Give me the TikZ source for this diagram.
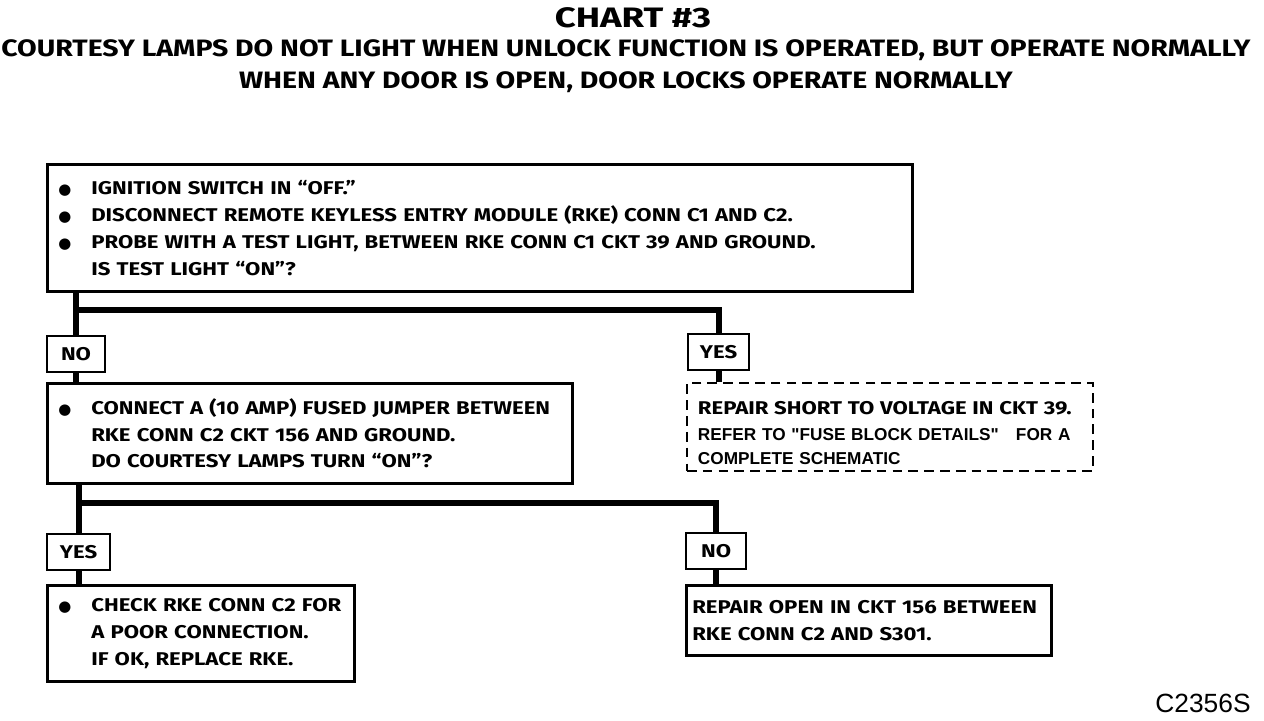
\documentclass[tikz,border=0pt]{standalone}
\usepackage{fontspec}
\setmainfont{Fira Sans}[FakeStretch=1.2]
\newfontfamily\titlefont{Fira Sans}[FakeStretch=1.3]
\newfontfamily\refsans{Liberation Sans}
\newfontfamily\dotfont{DejaVu Sans}
\newcommand{\bodyfont}{\fontsize{10.5}{15.3}\selectfont\bfseries}
\newcommand{\bul}{\makebox[0.66cm][l]{\dotfont\fontsize{8.5}{8}\selectfont ●}}
\newcommand{\ind}{\hspace*{0.66cm}}

\begin{document}
\begin{tikzpicture}[
    chartbox/.style={draw=black, line width=1.5pt, anchor=north west, align=left,
      inner xsep=0.22cm, inner ysep=0pt, font=\bodyfont},
    dashbox/.style={chartbox, line width=1.1pt, dash pattern=on 5.5pt off 3.5pt,
      font=\refsans\fontsize{9.8}{13.6}\selectfont\bfseries},
    answer/.style={draw=black, line width=1.2pt, anchor=north west, inner sep=0pt,
      minimum height=0.72cm, font=\bodyfont},
    wire/.style={draw=black, line width=3.4pt},
    heading/.style={align=center, font=\fontsize{13.5}{18.1}\selectfont\bfseries},
  ]
  \useasboundingbox (0,0) rectangle (25.28,-14.4);

  \node[heading] (title) at (12.66,-0.36) {\titlefont\fontsize{16}{18}\selectfont\bfseries CHART \#3};
  \node[heading] (sub) at (12.52,-1.32)
    {COURTESY LAMPS DO NOT LIGHT WHEN UNLOCK FUNCTION IS OPERATED, BUT OPERATE NORMALLY\\
     WHEN ANY DOOR IS OPEN, DOOR LOCKS OPERATE NORMALLY};

  \node[chartbox, text width=16.86cm, minimum height=2.54cm] (box1) at (0.92,-3.26)
    {\bul IGNITION SWITCH IN ``OFF.''\\
     \bul DISCONNECT REMOTE KEYLESS ENTRY MODULE (RKE) CONN C1 AND C2.\\
     \bul PROBE WITH A TEST LIGHT, BETWEEN RKE CONN C1 CKT 39 AND GROUND.\\
     \ind IS TEST LIGHT ``ON''?};

  \node[answer, minimum width=1.16cm] (no1)  at (0.92,-6.70)  {NO};
  \node[answer, minimum width=1.22cm] (yes1) at (13.74,-6.66) {YES};

  \node[chartbox, text width=10.06cm, minimum height=2.0cm] (box2) at (0.92,-7.64)
    {\bul CONNECT A (10 AMP) FUSED JUMPER BETWEEN\\
     \ind RKE CONN C2 CKT 156 AND GROUND.\\
     \ind DO COURTESY LAMPS TURN ``ON''?};

  \node[dashbox, text width=7.68cm, minimum height=1.76cm] (short) at (13.72,-7.64)
    {{\rmfamily\bodyfont\rule{0pt}{0.5cm}REPAIR SHORT TO VOLTAGE IN CKT 39.}\\[1.6pt]
     REFER TO "FUSE BLOCK DETAILS" \ \ FOR A\\
     COMPLETE SCHEMATIC};

  \node[answer, minimum width=1.26cm] (yes2) at (0.92,-10.66) {YES};
  \node[answer, minimum width=1.2cm]  (no2)  at (13.7,-10.64)  {NO};

  \node[chartbox, text width=5.70cm, minimum height=1.92cm] (box3) at (0.92,-11.68)
    {\bul CHECK RKE CONN C2 FOR\\
     \ind A POOR CONNECTION.\\
     \ind IF OK, REPLACE RKE.};
  \node[chartbox, inner xsep=0.12cm, text width=7.06cm, minimum height=1.4cm] (open) at (13.7,-11.68)
    {REPAIR OPEN IN CKT 156 BETWEEN\\
     RKE CONN C2 AND S301.};

  \draw[wire] (box1.south -| no1.north) -- (no1.north);
  \draw[wire] ([yshift=0.5cm]no1.north) -| (yes1.north);
  \draw[wire] (no1.south) -- (no1.south |- box2.north);
  \draw[wire] (yes1.south) -- (yes1.south |- short.north);

  \draw[wire] (box2.south -| yes2.north) -- (yes2.north);
  \draw[wire] ([yshift=0.6cm]yes2.north) -| (no2.north);
  \draw[wire] (yes2.south) -- (yes2.south |- box3.north);
  \draw[wire] (no2.south) -- (no2.south |- open.north);

  \node[font=\refsans\fontsize{15}{16}\selectfont] (code) at (24.06,-14.06) {C2356S};
\end{tikzpicture}
\end{document}
